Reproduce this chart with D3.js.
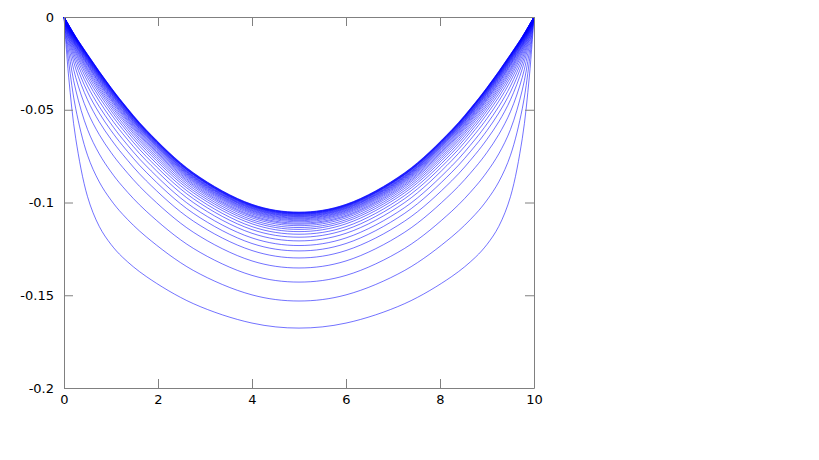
<!DOCTYPE html>
<html>
<head>
<meta charset="utf-8">
<script src="https://cdn.jsdelivr.net/npm/d3@7"></script>
<style>
  body { margin: 0; background: #fff; }
  svg { display: block; }
  .axis text { font-family: "DejaVu Sans", sans-serif; font-size: 13px; fill: #000; }
  .axis line, .axis path { stroke: #808080; }
</style>
</head>
<body>
<div id="chart"></div>
<script>
var width = 819, height = 460;
var margin = {left: 64, right: 285, top: 17, bottom: 72};

// sample positions along x (same for every curve)
var xs = [0, 0.1, 0.25, 0.5, 0.75, 1, 1.25, 1.75, 2.75, 4, 5, 6, 7.25, 8.25, 8.75, 9, 9.25, 9.5, 9.75, 9.9, 10];

// one row per curve, deepest first
var curves = [
  [0,-0.0324,-0.0656,-0.0968,-0.1129,-0.1226,-0.1296,-0.1399,-0.1545,-0.165,-0.1677,-0.165,-0.1545,-0.1399,-0.1296,-0.1226,-0.1129,-0.0968,-0.0656,-0.0324,0],
  [0,-0.0241,-0.0495,-0.0745,-0.0889,-0.0987,-0.1064,-0.1185,-0.1366,-0.1498,-0.1531,-0.1498,-0.1366,-0.1185,-0.1064,-0.0987,-0.0889,-0.0745,-0.0495,-0.0241,0],
  [0,-0.0189,-0.0394,-0.0606,-0.0738,-0.0835,-0.0915,-0.1047,-0.1247,-0.1393,-0.1429,-0.1393,-0.1247,-0.1047,-0.0915,-0.0835,-0.0738,-0.0606,-0.0394,-0.0189,0],
  [0,-0.0154,-0.0326,-0.051,-0.0634,-0.073,-0.0811,-0.0949,-0.116,-0.1315,-0.1353,-0.1315,-0.116,-0.0949,-0.0811,-0.073,-0.0634,-0.051,-0.0326,-0.0154,0],
  [0,-0.0131,-0.028,-0.0446,-0.0565,-0.0659,-0.0741,-0.0883,-0.11,-0.1259,-0.1299,-0.1259,-0.11,-0.0883,-0.0741,-0.0659,-0.0565,-0.0446,-0.028,-0.0131,0],
  [0,-0.0115,-0.025,-0.0404,-0.0518,-0.0612,-0.0694,-0.0837,-0.1058,-0.1221,-0.1261,-0.1221,-0.1058,-0.0837,-0.0694,-0.0612,-0.0518,-0.0404,-0.025,-0.0115,0],
  [0,-0.0104,-0.0227,-0.0372,-0.0483,-0.0576,-0.0659,-0.0803,-0.1027,-0.1191,-0.1232,-0.1191,-0.1027,-0.0803,-0.0659,-0.0576,-0.0483,-0.0372,-0.0227,-0.0104,0],
  [0,-0.0095,-0.0209,-0.0346,-0.0454,-0.0547,-0.0629,-0.0774,-0.1,-0.1166,-0.1207,-0.1166,-0.1,-0.0774,-0.0629,-0.0547,-0.0454,-0.0346,-0.0209,-0.0095,0],
  [0,-0.0087,-0.0194,-0.0326,-0.0432,-0.0523,-0.0606,-0.0752,-0.0979,-0.1146,-0.1187,-0.1146,-0.0979,-0.0752,-0.0606,-0.0523,-0.0432,-0.0326,-0.0194,-0.0087,0],
  [0,-0.0081,-0.0183,-0.031,-0.0414,-0.0505,-0.0588,-0.0734,-0.0962,-0.113,-0.1171,-0.113,-0.0962,-0.0734,-0.0588,-0.0505,-0.0414,-0.031,-0.0183,-0.0081,0],
  [0,-0.0077,-0.0173,-0.0296,-0.0399,-0.049,-0.0573,-0.0719,-0.0947,-0.1115,-0.1157,-0.1115,-0.0947,-0.0719,-0.0573,-0.049,-0.0399,-0.0296,-0.0173,-0.0077,0],
  [0,-0.0072,-0.0165,-0.0285,-0.0387,-0.0477,-0.0559,-0.0706,-0.0935,-0.1103,-0.1145,-0.1103,-0.0935,-0.0706,-0.0559,-0.0477,-0.0387,-0.0285,-0.0165,-0.0072,0],
  [0,-0.0069,-0.0158,-0.0276,-0.0376,-0.0466,-0.0548,-0.0695,-0.0924,-0.1093,-0.1135,-0.1093,-0.0924,-0.0695,-0.0548,-0.0466,-0.0376,-0.0276,-0.0158,-0.0069,0],
  [0,-0.0066,-0.0152,-0.0266,-0.0366,-0.0455,-0.0538,-0.0684,-0.0914,-0.1083,-0.1125,-0.1083,-0.0914,-0.0684,-0.0538,-0.0455,-0.0366,-0.0266,-0.0152,-0.0066,0],
  [0,-0.0063,-0.0147,-0.0258,-0.0357,-0.0446,-0.0529,-0.0676,-0.0906,-0.1075,-0.1117,-0.1075,-0.0906,-0.0676,-0.0529,-0.0446,-0.0357,-0.0258,-0.0147,-0.0063,0],
  [0,-0.0061,-0.0143,-0.0253,-0.0351,-0.044,-0.0522,-0.0669,-0.0899,-0.1069,-0.1111,-0.1069,-0.0899,-0.0669,-0.0522,-0.044,-0.0351,-0.0253,-0.0143,-0.0061,0],
  [0,-0.0059,-0.0138,-0.0247,-0.0344,-0.0433,-0.0515,-0.0662,-0.0892,-0.1062,-0.1104,-0.1062,-0.0892,-0.0662,-0.0515,-0.0433,-0.0344,-0.0247,-0.0138,-0.0059,0],
  [0,-0.0057,-0.0134,-0.0241,-0.0338,-0.0427,-0.0509,-0.0656,-0.0886,-0.1056,-0.1098,-0.1056,-0.0886,-0.0656,-0.0509,-0.0427,-0.0338,-0.0241,-0.0134,-0.0057,0],
  [0,-0.0055,-0.0131,-0.0237,-0.0333,-0.0422,-0.0504,-0.0651,-0.0881,-0.1051,-0.1093,-0.1051,-0.0881,-0.0651,-0.0504,-0.0422,-0.0333,-0.0237,-0.0131,-0.0055,0],
  [0,-0.0054,-0.0128,-0.0232,-0.0328,-0.0416,-0.0498,-0.0645,-0.0876,-0.1046,-0.1088,-0.1046,-0.0876,-0.0645,-0.0498,-0.0416,-0.0328,-0.0232,-0.0128,-0.0054,0],
  [0,-0.0052,-0.0125,-0.0229,-0.0324,-0.0412,-0.0494,-0.0641,-0.0872,-0.1042,-0.1084,-0.1042,-0.0872,-0.0641,-0.0494,-0.0412,-0.0324,-0.0229,-0.0125,-0.0052,0],
  [0,-0.0051,-0.0123,-0.0225,-0.032,-0.0408,-0.049,-0.0637,-0.0868,-0.1038,-0.108,-0.1038,-0.0868,-0.0637,-0.049,-0.0408,-0.032,-0.0225,-0.0123,-0.0051,0],
  [0,-0.005,-0.012,-0.0222,-0.0316,-0.0404,-0.0486,-0.0633,-0.0864,-0.1034,-0.1076,-0.1034,-0.0864,-0.0633,-0.0486,-0.0404,-0.0316,-0.0222,-0.012,-0.005,0],
  [0,-0.0049,-0.0119,-0.0219,-0.0314,-0.0401,-0.0483,-0.063,-0.0861,-0.1031,-0.1073,-0.1031,-0.0861,-0.063,-0.0483,-0.0401,-0.0314,-0.0219,-0.0119,-0.0049,0],
  [0,-0.0048,-0.0117,-0.0217,-0.031,-0.0398,-0.048,-0.0627,-0.0858,-0.1028,-0.107,-0.1028,-0.0858,-0.0627,-0.048,-0.0398,-0.031,-0.0217,-0.0117,-0.0048,0],
  [0,-0.0047,-0.0115,-0.0214,-0.0308,-0.0395,-0.0477,-0.0624,-0.0855,-0.1025,-0.1067,-0.1025,-0.0855,-0.0624,-0.0477,-0.0395,-0.0308,-0.0214,-0.0115,-0.0047,0],
  [0,-0.0046,-0.0113,-0.0211,-0.0305,-0.0392,-0.0473,-0.0621,-0.0851,-0.1022,-0.1064,-0.1022,-0.0851,-0.0621,-0.0473,-0.0392,-0.0305,-0.0211,-0.0113,-0.0046,0],
  [0,-0.0046,-0.0112,-0.021,-0.0303,-0.039,-0.0471,-0.0619,-0.0849,-0.102,-0.1062,-0.102,-0.0849,-0.0619,-0.0471,-0.039,-0.0303,-0.021,-0.0112,-0.0046,0],
  [0,-0.0045,-0.0111,-0.0208,-0.0301,-0.0388,-0.047,-0.0617,-0.0848,-0.1018,-0.106,-0.1018,-0.0848,-0.0617,-0.047,-0.0388,-0.0301,-0.0208,-0.0111,-0.0045,0],
  [0,-0.0044,-0.011,-0.0206,-0.0299,-0.0386,-0.0468,-0.0615,-0.0846,-0.1016,-0.1058,-0.1016,-0.0846,-0.0615,-0.0468,-0.0386,-0.0299,-0.0206,-0.011,-0.0044,0],
  [0,-0.0044,-0.0109,-0.0205,-0.0297,-0.0384,-0.0466,-0.0613,-0.0844,-0.1014,-0.1056,-0.1014,-0.0844,-0.0613,-0.0466,-0.0384,-0.0297,-0.0205,-0.0109,-0.0044,0],
  [0,-0.0044,-0.0108,-0.0204,-0.0296,-0.0383,-0.0464,-0.0612,-0.0842,-0.1013,-0.1055,-0.1013,-0.0842,-0.0612,-0.0464,-0.0383,-0.0296,-0.0204,-0.0108,-0.0044,0],
  [0,-0.0043,-0.0107,-0.0202,-0.0294,-0.0381,-0.0463,-0.061,-0.0841,-0.1011,-0.1053,-0.1011,-0.0841,-0.061,-0.0463,-0.0381,-0.0294,-0.0202,-0.0107,-0.0043,0],
  [0,-0.0043,-0.0106,-0.0201,-0.0293,-0.038,-0.0461,-0.0608,-0.0839,-0.101,-0.1052,-0.101,-0.0839,-0.0608,-0.0461,-0.038,-0.0293,-0.0201,-0.0106,-0.0043,0]
];

var xTicks = [0, 2, 4, 6, 8, 10];
var yTicks = [0, -0.05, -0.1, -0.15, -0.2];

var svg = d3.select("#chart").append("svg")
    .attr("width", width)
    .attr("height", height);

var x = d3.scaleLinear().domain([0, 10]).range([margin.left, width - margin.right]);
var y = d3.scaleLinear().domain([-0.2, 0]).range([height - margin.bottom, margin.top]);

// curves
var line = d3.line()
    .x(function(d, i) { return x(xs[i]); })
    .y(function(d) { return y(d); })
    .curve(d3.curveCatmullRom.alpha(0.5));

svg.append("g").selectAll("path").data(curves).enter().append("path")
    .attr("d", line)
    .attr("fill", "none")
    .attr("stroke", "#0000ff")
    .attr("stroke-opacity", 0.62)
    .attr("stroke-width", 0.9);

// axes, ticks point inward and are mirrored on top/right
svg.append("g").attr("class", "axis")
    .attr("transform", "translate(0," + y(-0.2) + ")")
    .call(d3.axisBottom(x).tickValues(xTicks).tickSizeInner(-9).tickSizeOuter(0).tickPadding(7)
      .tickFormat(d3.format("d")));

svg.append("g").attr("class", "axis")
    .attr("transform", "translate(" + x(0) + ",0)")
    .call(d3.axisLeft(y).tickValues(yTicks).tickSizeInner(-9).tickSizeOuter(0).tickPadding(10)
      .tickFormat(function(d) { return d === 0 ? "0" : String(+d.toFixed(2)); }));

svg.append("g").attr("class", "axis")
    .attr("transform", "translate(0," + y(0) + ")")
    .call(d3.axisTop(x).tickValues(xTicks).tickSizeInner(-9).tickSizeOuter(0).tickFormat(""));

svg.append("g").attr("class", "axis")
    .attr("transform", "translate(" + x(10) + ",0)")
    .call(d3.axisRight(y).tickValues(yTicks).tickSizeInner(-9).tickSizeOuter(0).tickFormat(""));
</script>
</body>
</html>
